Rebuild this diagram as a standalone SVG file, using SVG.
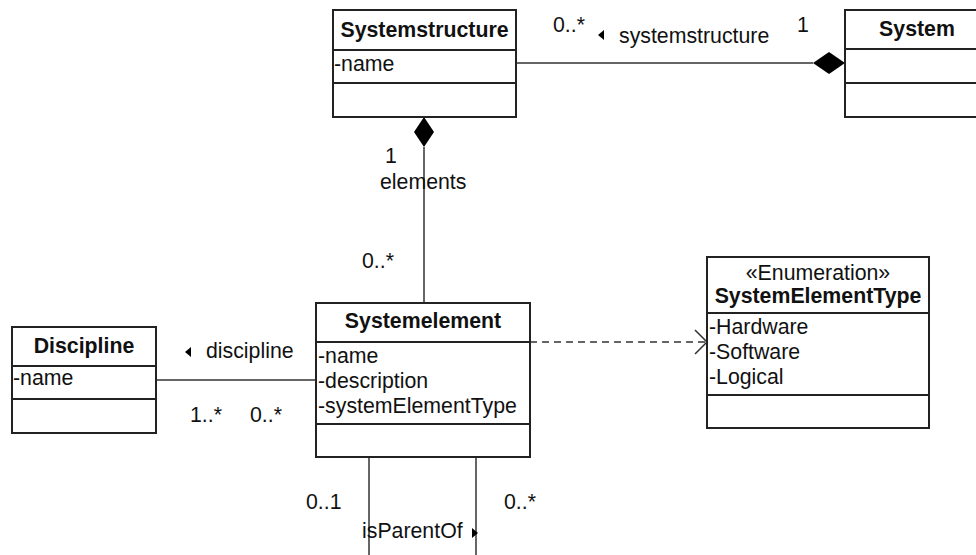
<svg xmlns="http://www.w3.org/2000/svg" width="976" height="555" viewBox="0 0 976 555">
<style>
.box{fill:#fff;stroke:#222;stroke-width:2}
.sep{stroke:#222;stroke-width:2}
.ln{stroke:#333;stroke-width:1.5;fill:none}
.t{font-family:"Liberation Sans",Arial,sans-serif;font-size:21.3px;fill:#111}
.b{font-weight:bold;text-anchor:middle}
.c{text-anchor:middle}
</style>
<rect width="976" height="555" fill="#fff"/>
<g id="connectors">
<line class="ln" x1="516" y1="63" x2="813" y2="63"/>
<polygon points="813,63 829,52 845,63 829,74" fill="#000"/>
<line class="ln" x1="424" y1="147" x2="424" y2="303"/>
<polygon points="424,117 434,132 424,147 414,132" fill="#000"/>
<line class="ln" x1="156" y1="380" x2="316" y2="380"/>
<line class="ln" x1="530" y1="342" x2="706" y2="342" stroke-dasharray="7,5"/>
<polyline class="ln" points="695,330 707,342 695,354"/>
<line class="ln" x1="369" y1="457" x2="369" y2="555"/>
<line class="ln" x1="476" y1="457" x2="476" y2="555"/>
<g id="labels">
<text class="t" x="553" y="32">0..*</text>
<polygon points="598,35 604,30 604,40" fill="#000"/>
<text class="t" x="619" y="43">systemstructure</text>
<text class="t" x="797" y="32">1</text>
<text class="t" x="385" y="163">1</text>
<text class="t" x="380" y="189">elements</text>
<text class="t" x="362" y="268">0..*</text>
<polygon points="185,352 191,347 191,357" fill="#000"/>
<text class="t" x="206" y="358">discipline</text>
<text class="t" x="190" y="422">1..*</text>
<text class="t" x="250" y="422">0..*</text>
<text class="t" x="306" y="509">0..1</text>
<text class="t" x="504" y="509">0..*</text>
<text class="t" x="362" y="538">isParentOf</text>
<polygon points="478,533 472,528 472,538" fill="#000"/>
</g>
</g>
<g id="Systemstructure">
<rect class="box" x="333" y="10" width="183" height="107"/>
<line class="sep" x1="333" y1="50" x2="516" y2="50"/>
<line class="sep" x1="333" y1="83" x2="516" y2="83"/>
<text class="t b" x="424.5" y="37">Systemstructure</text>
<text class="t" x="334" y="71">-name</text>
</g>
<g id="System">
<rect class="box" x="845" y="10" width="145" height="107"/>
<line class="sep" x1="845" y1="49" x2="990" y2="49"/>
<line class="sep" x1="845" y1="83" x2="990" y2="83"/>
<text class="t b" x="917" y="36">System</text>
</g>
<g id="Systemelement">
<rect class="box" x="316" y="303" width="214" height="154"/>
<line class="sep" x1="316" y1="342" x2="530" y2="342"/>
<line class="sep" x1="316" y1="424" x2="530" y2="424"/>
<text class="t b" x="423" y="328">Systemelement</text>
<text class="t" x="318" y="363">-name</text>
<text class="t" x="318" y="388">-description</text>
<text class="t" x="318" y="413">-systemElementType</text>
</g>
<g id="Discipline">
<rect class="box" x="12" y="327" width="144" height="106"/>
<line class="sep" x1="12" y1="366" x2="156" y2="366"/>
<line class="sep" x1="12" y1="399" x2="156" y2="399"/>
<text class="t b" x="84" y="353">Discipline</text>
<text class="t" x="13" y="385">-name</text>
</g>
<g id="SystemElementType">
<rect class="box" x="707" y="257" width="222" height="171"/>
<line class="sep" x1="707" y1="313" x2="929" y2="313"/>
<line class="sep" x1="707" y1="395" x2="929" y2="395"/>
<text class="t c" x="818" y="280">«Enumeration»</text>
<text class="t b" x="818" y="303">SystemElementType</text>
<text class="t" x="709" y="334">-Hardware</text>
<text class="t" x="709" y="359">-Software</text>
<text class="t" x="709" y="384">-Logical</text>
</g>
</svg>
